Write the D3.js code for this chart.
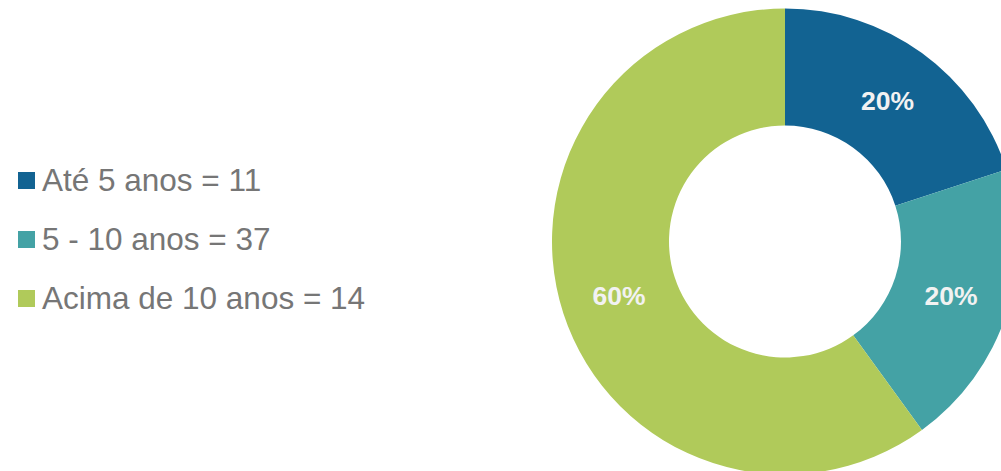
<!DOCTYPE html>
<html>
<head>
<meta charset="utf-8">
<script src="https://cdn.jsdelivr.net/npm/d3@7"></script>
<style>
  html, body { margin: 0; padding: 0; background: #ffffff; }
  svg { display: block; }
</style>
</head>
<body>
<svg id="chart" width="1001" height="471"></svg>
<script>
const categories = ["Até 5 anos", "5 - 10 anos", "Acima de 10 anos"];
const counts = [11, 37, 14];
const percents = [20, 20, 60];
const colors = ["#126392", "#44a2a5", "#b0ca5a"];

const svg = d3.select("#chart");
const cx = 785, cy = 241.5, outerR = 233, innerR = 116;

const pie = d3.pie().sort(null).value(d => d)(percents);
const arc = d3.arc().innerRadius(innerR).outerRadius(outerR);

const g = svg.append("g").attr("transform", `translate(${cx},${cy})`);
g.selectAll("path.slice").data(pie).enter().append("path")
  .attr("class", "slice")
  .attr("d", arc)
  .attr("fill", (d, i) => colors[i]);

g.selectAll("text.lbl").data(pie).enter().append("text")
  .attr("class", "lbl")
  .attr("transform", d => `translate(${arc.centroid(d)})`)
  .attr("text-anchor", "middle")
  .attr("dy", "0.36em")
  .attr("font-family", "'Liberation Sans', Arial, sans-serif")
  .attr("font-weight", "bold")
  .attr("font-size", "26.5px")
  .attr("fill", "#f2f2f2")
  .text(d => d.data + "%");

// Legend
const legendY = d3.scalePoint().domain(categories).range([180.5, 298.5]);
const leg = svg.append("g");
const items = leg.selectAll("g.item").data(categories).enter().append("g")
  .attr("class", "item")
  .attr("transform", d => `translate(0,${legendY(d)})`);
items.append("rect")
  .attr("x", 18).attr("y", -8.5).attr("width", 17).attr("height", 17)
  .attr("fill", (d, i) => colors[i]);
items.append("text")
  .attr("x", 42)
  .attr("y", 10.5)
  .attr("font-family", "'Liberation Sans', Arial, sans-serif")
  .attr("font-size", "31.5px")
  .attr("fill", "#767676")
  .text((d, i) => `${d} = ${counts[i]}`);
</script>
</body>
</html>
